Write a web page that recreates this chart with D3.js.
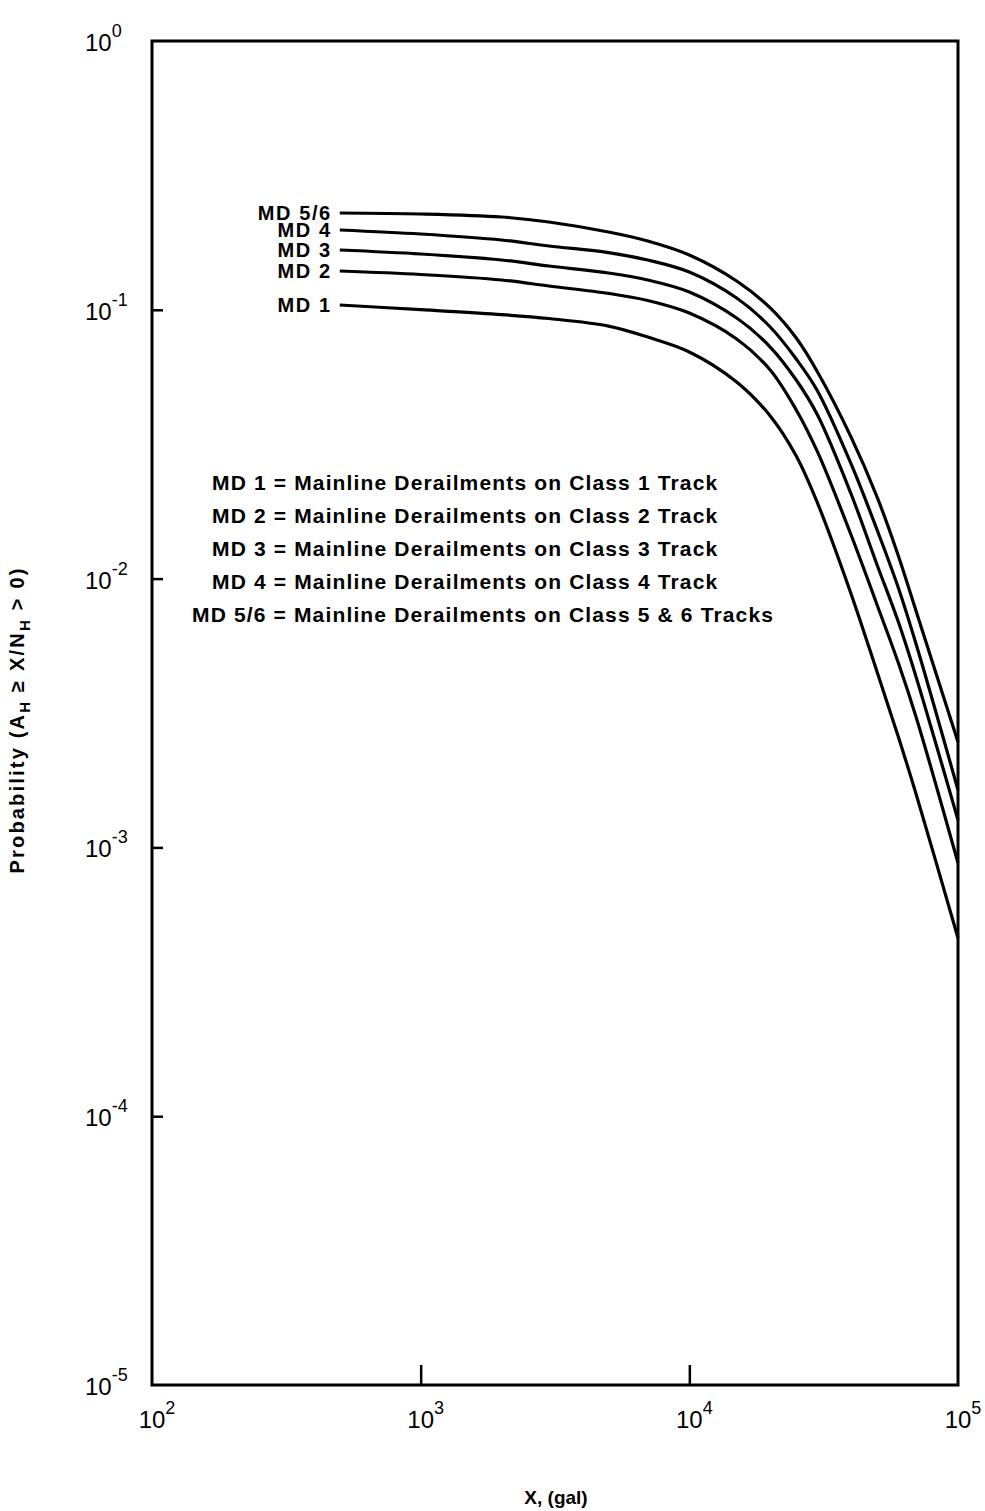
<!DOCTYPE html>
<html>
<head>
<meta charset="utf-8">
<script src="https://cdn.jsdelivr.net/npm/d3@7"></script>
<style>
  body { margin: 0; background: #fff; }
  svg { display: block; }
  text { font-family: "Liberation Sans", Arial, sans-serif; fill: #000; }
</style>
</head>
<body>
<svg id="chart"></svg>
<script>
// Data
const xVals = [500, 1000, 2000, 3000, 5000, 7000, 10000, 15000, 20000, 25000, 30000, 40000, 50000, 60000, 70000, 100000];
const md56 = [0.2291, 0.2272, 0.2214, 0.2121, 0.1947, 0.1803, 0.1599, 0.128, 0.1016, 0.0785, 0.0587, 0.0336, 0.0201, 0.01214, 0.00751, 0.002466];
const md4  = [0.1981, 0.1914, 0.1818, 0.1727, 0.1633, 0.1532, 0.1382, 0.1106, 0.0863, 0.0656, 0.0499, 0.0267, 0.01516, 0.00923, 0.00566, 0.001635];
const md3  = [0.1669, 0.1613, 0.1532, 0.1455, 0.1371, 0.1291, 0.1165, 0.0932, 0.0727, 0.0548, 0.0406, 0.02064, 0.01124, 0.00689, 0.00427, 0.001264];
const md2  = [0.1394, 0.1353, 0.1291, 0.1226, 0.1151, 0.1083, 0.0973, 0.0779, 0.0597, 0.0424, 0.0296, 0.01453, 0.00798, 0.00485, 0.00303, 0.000875];
const md1  = [0.1042, 0.1001, 0.096, 0.0928, 0.087, 0.0792, 0.0697, 0.0539, 0.0403, 0.0286, 0.0191, 0.00877, 0.00449, 0.002575, 0.001566, 0.00046];
const seriesNames = ["MD 5/6", "MD 4", "MD 3", "MD 2", "MD 1"];
const seriesVals = [md56, md4, md3, md2, md1];

const legendLines = [
  "MD 1 = Mainline Derailments on Class 1 Track",
  "MD 2 = Mainline Derailments on Class 2 Track",
  "MD 3 = Mainline Derailments on Class 3 Track",
  "MD 4 = Mainline Derailments on Class 4 Track",
  "MD 5/6 = Mainline Derailments on Class 5 & 6 Tracks"
];
const yTickExp = [0, -1, -2, -3, -4, -5];
const xTickExp = [2, 3, 4, 5];

//Dimensions
const width = 985, height = 1511;
const plotL = 152, plotR = 958, plotT = 41, plotB = 1385;

const svg = d3.select("#chart").attr("width", width).attr("height", height);

const x = d3.scaleLog().domain([1e2, 1e5]).range([plotL, plotR]);
const y = d3.scaleLog().domain([1e-5, 1]).range([plotB, plotT]);

//Frame
svg.append("rect")
  .attr("x", plotL).attr("y", plotT)
  .attr("width", plotR - plotL).attr("height", plotB - plotT)
  .attr("fill", "none").attr("stroke", "#000").attr("stroke-width", 3);

//Ticks (inward)
svg.append("g")
  .attr("transform", `translate(${plotL},0)`)
  .call(d3.axisRight(y).tickValues([1e-1, 1e-2, 1e-3, 1e-4]).tickSize(11).tickFormat(""))
  .call(g => g.select(".domain").remove())
  .call(g => g.selectAll("line").attr("stroke-width", 2.5));

svg.append("g")
  .attr("transform", `translate(0,${plotB})`)
  .call(d3.axisTop(x).tickValues([1e3, 1e4]).tickSize(20).tickFormat(""))
  .call(g => g.select(".domain").remove())
  .call(g => g.selectAll("line").attr("stroke-width", 2.5));

//Tick labels with superscripts
const yLab = svg.append("g").selectAll("text").data(yTickExp).join("text")
  .attr("x", 85)
  .attr("y", d => y(Math.pow(10, d)) + 10)
  .attr("font-size", 24);
yLab.append("tspan").text("10");
yLab.append("tspan").attr("dy", -14).attr("font-size", 18).text(d => d === 0 ? "0" : "-" + (-d));

const xLab = svg.append("g").selectAll("text").data(xTickExp).join("text")
  .attr("x", d => x(Math.pow(10, d)) + 5)
  .attr("y", 1428)
  .attr("text-anchor", "middle")
  .attr("font-size", 24);
xLab.append("tspan").text("10");
xLab.append("tspan").attr("dy", -14).attr("font-size", 18).text(d => d);

//Curves
const line = d3.line()
  .x((d, i) => x(xVals[i]))
  .y(d => y(d))
  .curve(d3.curveCatmullRom.alpha(0.5));

svg.append("g").selectAll("path").data(seriesVals).join("path")
  .attr("d", d => line(d))
  .attr("fill", "none")
  .attr("stroke", "#000")
  .attr("stroke-width", 3.2);

//Curve labels
svg.append("g").selectAll("text").data(seriesVals).join("text")
  .attr("x", x(xVals[0]) - 8)
  .attr("y", d => y(d[0]) + 7)
  .attr("text-anchor", "end")
  .attr("font-size", 20)
  .attr("font-weight", "bold")
  .attr("letter-spacing", 1.6)
  .text((d, i) => seriesNames[i]);

//Legend text
svg.append("g").selectAll("text").data(legendLines).join("text")
  .attr("x", (d, i) => i === 4 ? 192 : 212)
  .attr("y", (d, i) => 490 + i * 33)
  .attr("font-size", 21)
  .attr("font-weight", "bold")
  .attr("letter-spacing", 1.15)
  .text(d => d);

//Axis titles
const yTitle = svg.append("text")
  .attr("transform", "translate(24,720) rotate(-90)")
  .attr("text-anchor", "middle")
  .attr("font-size", 20)
  .attr("font-weight", "bold")
  .attr("letter-spacing", 2.2);
yTitle.append("tspan").text("Probability (A");
yTitle.append("tspan").attr("dy", 6).attr("font-size", 15).text("H");
yTitle.append("tspan").attr("dy", -6).text(" \u2265 X/N");
yTitle.append("tspan").attr("dy", 6).attr("font-size", 15).text("H");
yTitle.append("tspan").attr("dy", -6).text(" > 0)");

svg.append("text")
  .attr("x", 556).attr("y", 1504)
  .attr("text-anchor", "middle")
  .attr("font-size", 19)
  .attr("font-weight", "bold")
  .text("X, (gal)");
</script>
</body>
</html>
